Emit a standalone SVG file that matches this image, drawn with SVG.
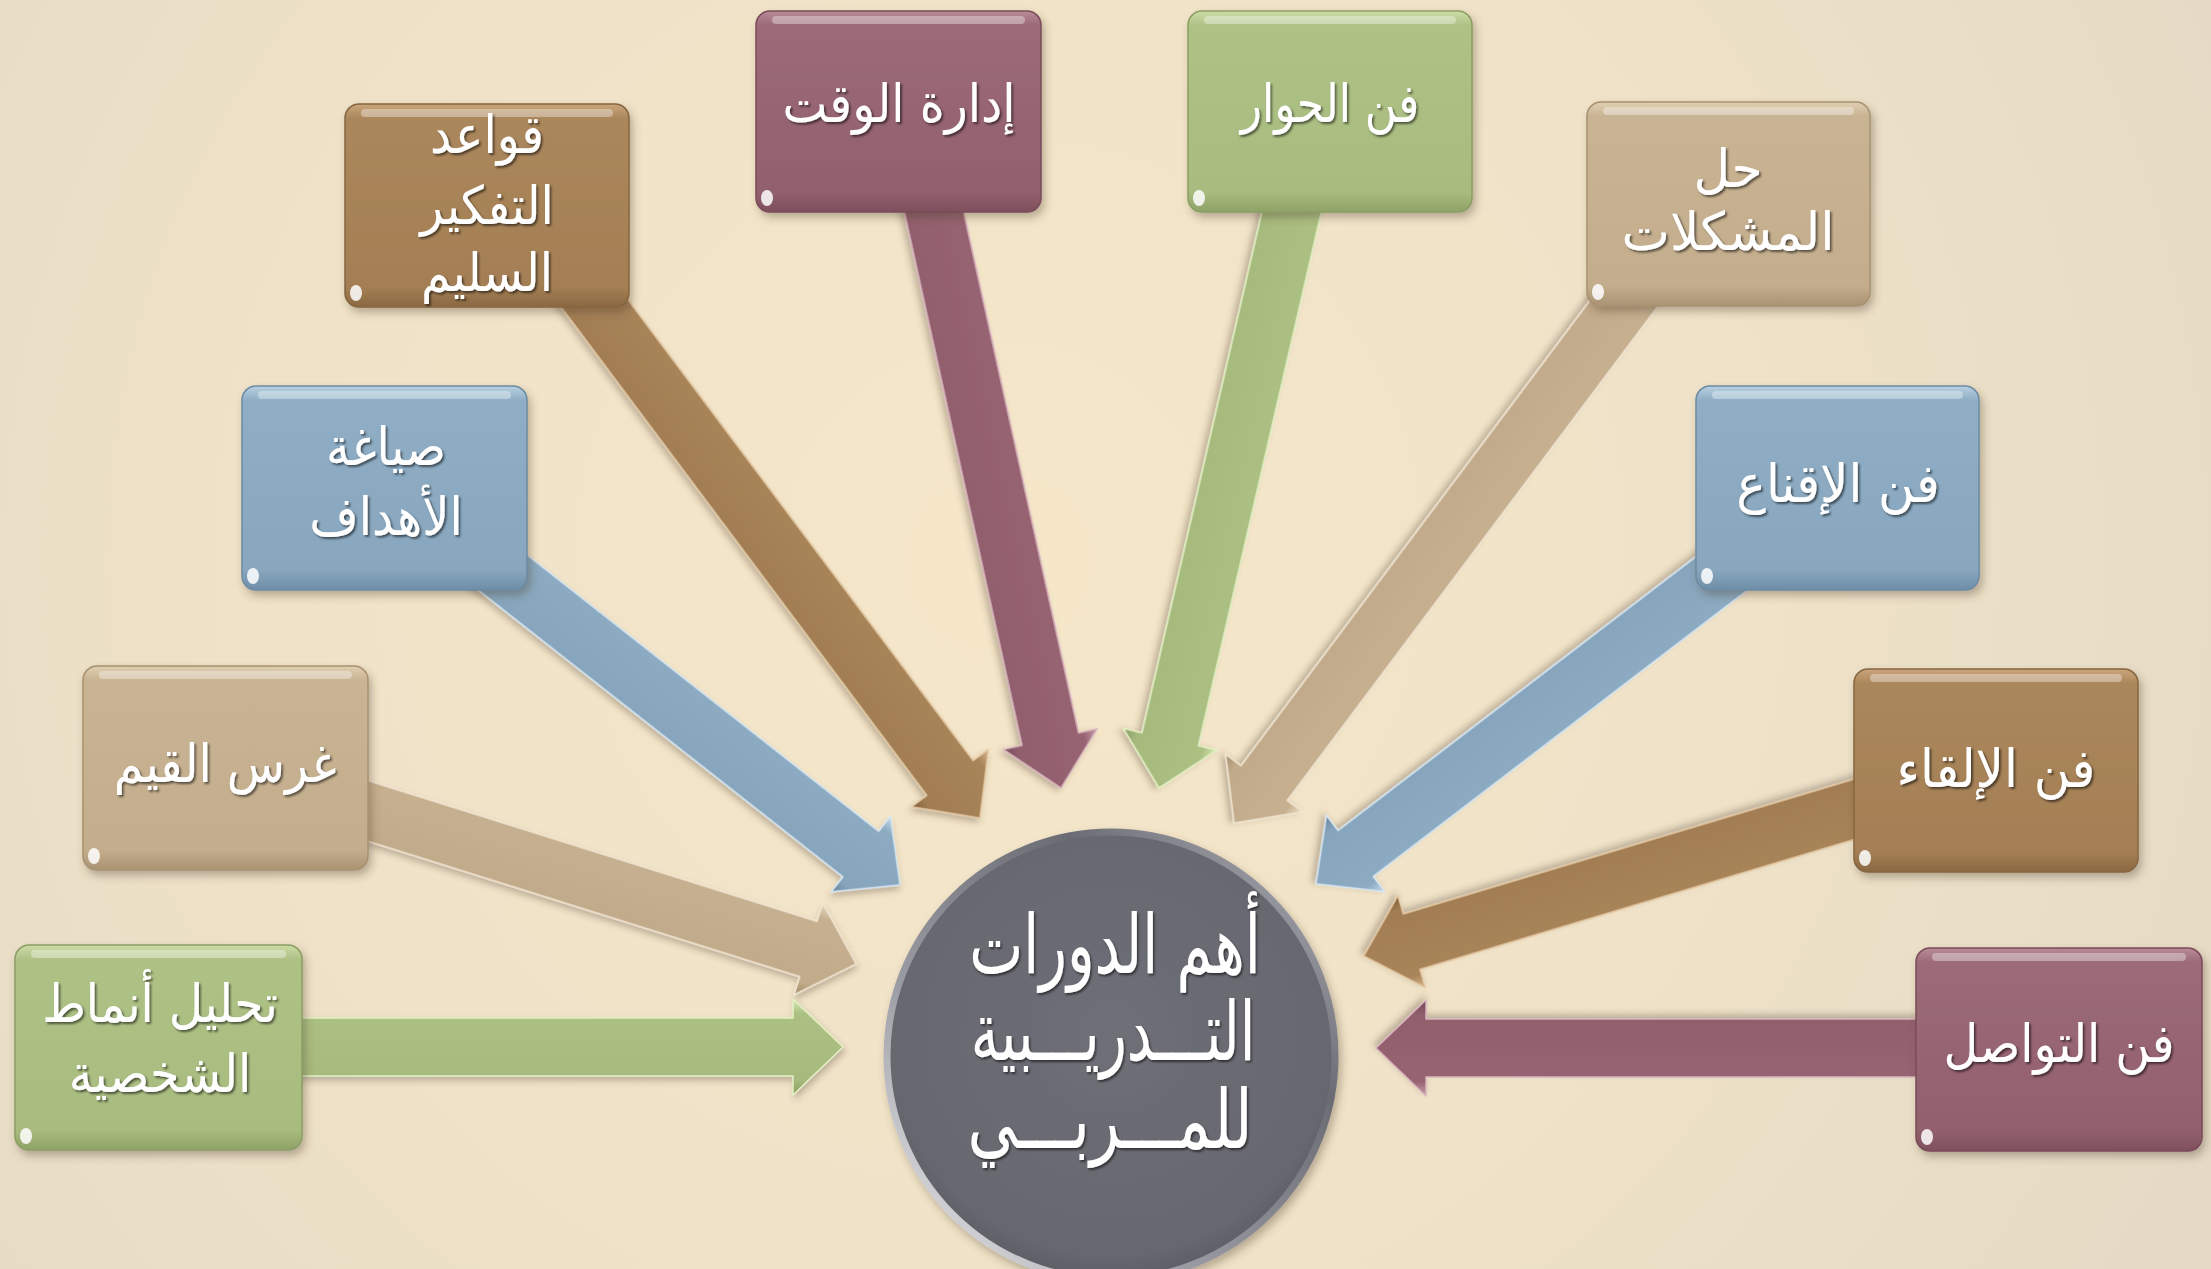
<svg xmlns="http://www.w3.org/2000/svg" width="2211" height="1269" viewBox="0 0 2211 1269">
  <defs>
    <radialGradient id="bg" cx="1000" cy="560" r="1350" gradientUnits="userSpaceOnUse">
      <stop offset="0" stop-color="#F6E7C9"/>
      <stop offset="0.55" stop-color="#EFE2C8"/>
      <stop offset="1" stop-color="#E5DAC5"/>
    </radialGradient>

    <linearGradient id="bx-mauve" x1="0" y1="0" x2="0" y2="1">
      <stop offset="0" stop-color="#B88C98"/><stop offset="0.07" stop-color="#9C6A78"/>
      <stop offset="0.9" stop-color="#92606D"/><stop offset="1" stop-color="#7E4F5C"/>
    </linearGradient>
    <linearGradient id="bx-brown" x1="0" y1="0" x2="0" y2="1">
      <stop offset="0" stop-color="#CBA67C"/><stop offset="0.07" stop-color="#AB875C"/>
      <stop offset="0.9" stop-color="#A47F55"/><stop offset="1" stop-color="#8A6841"/>
    </linearGradient>
    <linearGradient id="bx-green" x1="0" y1="0" x2="0" y2="1">
      <stop offset="0" stop-color="#CCDCA6"/><stop offset="0.07" stop-color="#AFC286"/>
      <stop offset="0.9" stop-color="#A8BC7F"/><stop offset="1" stop-color="#8FA267"/>
    </linearGradient>
    <linearGradient id="bx-tan" x1="0" y1="0" x2="0" y2="1">
      <stop offset="0" stop-color="#E0CFB2"/><stop offset="0.07" stop-color="#C8B393"/>
      <stop offset="0.9" stop-color="#C3AD8C"/><stop offset="1" stop-color="#A99372"/>
    </linearGradient>
    <linearGradient id="bx-blue" x1="0" y1="0" x2="0" y2="1">
      <stop offset="0" stop-color="#B8D0E2"/><stop offset="0.07" stop-color="#8FAEC5"/>
      <stop offset="0.9" stop-color="#88A7BF"/><stop offset="1" stop-color="#6E8DA6"/>
    </linearGradient>

    <linearGradient id="ar-mauve" x1="0" y1="0" x2="0" y2="1">
      <stop offset="0" stop-color="#C79DA9"/><stop offset="0.15" stop-color="#976472"/>
      <stop offset="0.85" stop-color="#915E6C"/><stop offset="1" stop-color="#74495A"/>
    </linearGradient>
    <linearGradient id="ar-brown" x1="0" y1="0" x2="0" y2="1">
      <stop offset="0" stop-color="#D9B890"/><stop offset="0.15" stop-color="#A8845A"/>
      <stop offset="0.85" stop-color="#A27D53"/><stop offset="1" stop-color="#7E5E39"/>
    </linearGradient>
    <linearGradient id="ar-green" x1="0" y1="0" x2="0" y2="1">
      <stop offset="0" stop-color="#D8E8B3"/><stop offset="0.15" stop-color="#ACC083"/>
      <stop offset="0.85" stop-color="#A6BA7D"/><stop offset="1" stop-color="#86995F"/>
    </linearGradient>
    <linearGradient id="ar-tan" x1="0" y1="0" x2="0" y2="1">
      <stop offset="0" stop-color="#EADBC2"/><stop offset="0.15" stop-color="#C6B090"/>
      <stop offset="0.85" stop-color="#C1AA89"/><stop offset="1" stop-color="#A08A6A"/>
    </linearGradient>
    <linearGradient id="ar-blue" x1="0" y1="0" x2="0" y2="1">
      <stop offset="0" stop-color="#C4DAEA"/><stop offset="0.15" stop-color="#8CABC2"/>
      <stop offset="0.85" stop-color="#86A5BD"/><stop offset="1" stop-color="#66849C"/>
    </linearGradient>

    <linearGradient id="rim" x1="0" y1="1" x2="1" y2="0">
      <stop offset="0" stop-color="#F2F2F4"/>
      <stop offset="0.35" stop-color="#9A9BA2"/>
      <stop offset="0.7" stop-color="#6A6B73"/>
      <stop offset="1" stop-color="#B9BAC0"/>
    </linearGradient>
    <radialGradient id="disc" cx="0.5" cy="0.45" r="0.55">
      <stop offset="0" stop-color="#6E6F77"/>
      <stop offset="0.9" stop-color="#66676F"/>
      <stop offset="1" stop-color="#5E5F67"/>
    </radialGradient>

    <filter id="shadow" x="-20%" y="-20%" width="140%" height="140%">
      <feDropShadow dx="3" dy="5" stdDeviation="4" flood-color="#4a3b28" flood-opacity="0.35"/>
    </filter>
    <filter id="ashadow" x="-20%" y="-20%" width="140%" height="140%">
      <feDropShadow dx="2" dy="4" stdDeviation="3" flood-color="#4a3b28" flood-opacity="0.3"/>
    </filter>
    <filter id="tshadow" x="-10%" y="-20%" width="120%" height="140%">
      <feDropShadow dx="2" dy="2" stdDeviation="1.2" flood-color="#000" flood-opacity="0.55"/>
    </filter>
  </defs>

  <style>
    .lbl { font-family: "DejaVu Sans", "Noto Sans", sans-serif; font-size: 53px; fill: #ffffff; text-anchor: middle; filter: url(#tshadow); }
    .big { font-size: 82px; }
    .box { filter: url(#shadow); stroke-width: 1.5; }
    .gloss { fill: #ffffff; opacity: 0.35; }
    .dot { fill: #ffffff; opacity: 0.85; }
    .arrow { filter: url(#ashadow); stroke-width: 1.5; stroke-linejoin: round; }
    .mauve-b { fill: url(#bx-mauve); stroke: #7A4B58; }
    .brown-b { fill: url(#bx-brown); stroke: #86653F; }
    .green-b { fill: url(#bx-green); stroke: #8B9E64; }
    .tan-b { fill: url(#bx-tan); stroke: #A8916F; }
    .blue-b { fill: url(#bx-blue); stroke: #6C8BA3; }
    .mauve-a { fill: url(#ar-mauve); stroke: #D9B4BE; }
    .brown-a { fill: url(#ar-brown); stroke: #E4C7A2; }
    .green-a { fill: url(#ar-green); stroke: #E2F0C4; }
    .tan-a { fill: url(#ar-tan); stroke: #F1E5D2; }
    .blue-a { fill: url(#ar-blue); stroke: #D6E6F2; }
  </style>

  <rect x="0" y="0" width="2211" height="1269" fill="url(#bg)"/>

  <g id="connectors">
    <g transform="translate(927,180) rotate(77.57)"><polygon class="arrow mauve-a" points="0,-29 572.6,-29 572.6,-48 622.6,0 572.6,48 572.6,29 0,29"/></g>
    <g transform="translate(577,280) rotate(53.17)"><polygon class="arrow brown-a" points="0,-29 622.2,-29 622.2,-48 672.2,0 622.2,48 622.2,29 0,29"/></g>
    <g transform="translate(1299,180) rotate(102.97)"><polygon class="arrow green-a" points="0,-29 573.9,-29 573.9,-48 623.9,0 573.9,48 573.9,29 0,29"/></g>
    <g transform="translate(1641.5,280) rotate(126.88)"><polygon class="arrow tan-a" points="0,-29 628.9,-29 628.9,-48 678.9,0 628.9,48 628.9,29 0,29"/></g>
    <g transform="translate(455,535) rotate(38.18)"><polygon class="arrow blue-a" points="0,-29 516.2,-29 516.2,-48 566.2,0 516.2,48 516.2,29 0,29"/></g>
    <g transform="translate(1768,538) rotate(142.58)"><polygon class="arrow blue-a" points="0,-29 519.2,-29 519.2,-48 569.2,0 519.2,48 519.2,29 0,29"/></g>
    <g transform="translate(330,799) rotate(17.41)"><polygon class="arrow tan-a" points="0,-29 501.4,-29 501.4,-48 551.4,0 501.4,48 501.4,29 0,29"/></g>
    <g transform="translate(1892,798) rotate(163.35)"><polygon class="arrow brown-a" points="0,-29 501.4,-29 501.4,-48 551.4,0 501.4,48 501.4,29 0,29"/></g>
    <g transform="translate(270,1047)"><polygon class="arrow green-a" points="0,-29 523,-29 523,-48 573,0 523,48 523,29 0,29"/></g>
    <g transform="translate(1950,1048) rotate(180)"><polygon class="arrow mauve-a" points="0,-29 524,-29 524,-48 574,0 524,48 524,29 0,29"/></g>
  </g>

  <g id="node-center">
    <circle cx="1111" cy="1056" r="224" fill="url(#disc)" stroke="url(#rim)" stroke-width="7" filter="url(#shadow)"/>
    <text class="lbl big" transform="translate(1115,973) scale(0.70,1)">أهم الدورات</text>
    <text class="lbl big" transform="translate(1113,1060) scale(0.685,1)">التـــدريـــبية</text>
    <text class="lbl big" transform="translate(1110,1148) scale(0.75,1)">للمـــربـــي</text>
  </g>

  <g id="node-time">
    <rect class="box mauve-b" x="756" y="11" width="285" height="201" rx="14"/>
    <rect class="gloss" x="772" y="16" width="253" height="8" rx="4"/>
    <ellipse class="dot" cx="767" cy="198" rx="6" ry="8"/>
    <text class="lbl" transform="translate(899,122) scale(0.9,1)">إدارة الوقت</text>
  </g>

  <g id="node-dialogue">
    <rect class="box green-b" x="1188" y="11" width="284" height="201" rx="14"/>
    <rect class="gloss" x="1204" y="16" width="252" height="8" rx="4"/>
    <ellipse class="dot" cx="1199" cy="198" rx="6" ry="8"/>
    <text class="lbl" transform="translate(1330,122) scale(0.83,1)">فن الحوار</text>
  </g>

  <g id="node-thinking">
    <rect class="box brown-b" x="345" y="104" width="284" height="203" rx="14"/>
    <rect class="gloss" x="361" y="109" width="252" height="8" rx="4"/>
    <ellipse class="dot" cx="356" cy="293" rx="6" ry="8"/>
    <text class="lbl" transform="translate(487,153) scale(0.9,1)">قواعد</text>
    <text class="lbl" transform="translate(487,224) scale(0.9,1)">التفكير</text>
    <text class="lbl" transform="translate(487,291) scale(0.9,1)">السليم</text>
  </g>

  <g id="node-problems">
    <rect class="box tan-b" x="1587" y="102" width="283" height="204" rx="14"/>
    <rect class="gloss" x="1603" y="107" width="251" height="8" rx="4"/>
    <ellipse class="dot" cx="1598" cy="292" rx="6" ry="8"/>
    <text class="lbl" transform="translate(1728,187) scale(0.95,1)">حل</text>
    <text class="lbl" transform="translate(1728,250) scale(0.97,1)">المشكلات</text>
  </g>

  <g id="node-goals">
    <rect class="box blue-b" x="242" y="386" width="285" height="204" rx="14"/>
    <rect class="gloss" x="258" y="391" width="253" height="8" rx="4"/>
    <ellipse class="dot" cx="253" cy="576" rx="6" ry="8"/>
    <text class="lbl" transform="translate(386,465) scale(0.9,1)">صياغة</text>
    <text class="lbl" transform="translate(386,535) scale(0.9,1)">الأهداف</text>
  </g>

  <g id="node-persuasion">
    <rect class="box blue-b" x="1696" y="386" width="283" height="204" rx="14"/>
    <rect class="gloss" x="1712" y="391" width="251" height="8" rx="4"/>
    <ellipse class="dot" cx="1707" cy="576" rx="6" ry="8"/>
    <text class="lbl" transform="translate(1838,502) scale(0.94,1)">فن الإقناع</text>
  </g>

  <g id="node-values">
    <rect class="box tan-b" x="83" y="666" width="285" height="204" rx="14"/>
    <rect class="gloss" x="99" y="671" width="253" height="8" rx="4"/>
    <ellipse class="dot" cx="94" cy="856" rx="6" ry="8"/>
    <text class="lbl" transform="translate(225,782) scale(0.9,1)">غرس القيم</text>
  </g>

  <g id="node-delivery">
    <rect class="box brown-b" x="1854" y="669" width="284" height="203" rx="14"/>
    <rect class="gloss" x="1870" y="674" width="252" height="8" rx="4"/>
    <ellipse class="dot" cx="1865" cy="858" rx="6" ry="8"/>
    <text class="lbl" transform="translate(1996,787) scale(0.94,1)">فن الإلقاء</text>
  </g>

  <g id="node-personality">
    <rect class="box green-b" x="15" y="945" width="287" height="205" rx="14"/>
    <rect class="gloss" x="31" y="950" width="255" height="8" rx="4"/>
    <ellipse class="dot" cx="26" cy="1136" rx="6" ry="8"/>
    <text class="lbl" transform="translate(160,1022) scale(0.89,1)">تحليل أنماط</text>
    <text class="lbl" transform="translate(160,1092) scale(0.9,1)">الشخصية</text>
  </g>

  <g id="node-communication">
    <rect class="box mauve-b" x="1916" y="948" width="286" height="203" rx="14"/>
    <rect class="gloss" x="1932" y="953" width="254" height="8" rx="4"/>
    <ellipse class="dot" cx="1927" cy="1137" rx="6" ry="8"/>
    <text class="lbl" transform="translate(2059,1062) scale(0.9,1)">فن التواصل</text>
  </g>
</svg>
